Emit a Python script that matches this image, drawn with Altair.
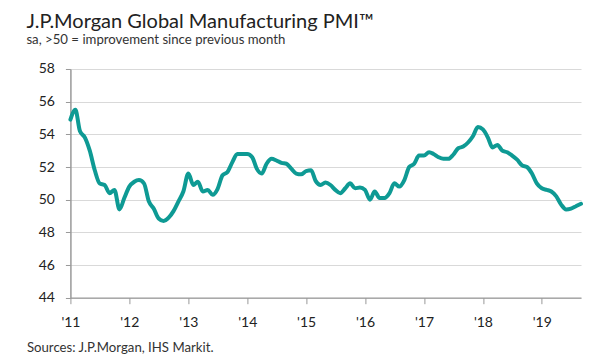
import altair as alt
import pandas as pd

# Monthly J.P.Morgan Global Manufacturing PMI, Jan 2011 - Sep 2019
pmi_2011 = [54.9, 55.5, 54.2, 53.8, 53.0, 51.8, 51.0, 50.9, 50.4, 50.6, 49.4, 50.1]
pmi_2012 = [50.8, 51.1, 51.2, 51.0, 49.9, 49.45, 48.85, 48.7, 48.9, 49.3, 49.9, 50.5]
pmi_2013 = [51.6, 50.9, 51.1, 50.5, 50.6, 50.3, 50.65, 51.5, 51.7, 52.3, 52.8, 52.8]
pmi_2014 = [52.8, 52.6, 51.9, 51.6, 52.2, 52.5, 52.4, 52.25, 52.2, 51.9, 51.6, 51.55]
pmi_2015 = [51.75, 51.8, 51.15, 50.9, 51.05, 50.9, 50.6, 50.4, 50.7, 51.0, 50.7, 50.75]
pmi_2016 = [50.6, 50.0, 50.5, 50.1, 50.1, 50.4, 51.0, 50.8, 51.2, 52.0, 52.2, 52.7]
pmi_2017 = [52.7, 52.9, 52.8, 52.6, 52.5, 52.5, 52.75, 53.15, 53.25, 53.5, 53.9, 54.45]
pmi_2018 = [54.3, 53.8, 53.2, 53.35, 53.0, 52.9, 52.7, 52.45, 52.1, 52.0, 51.6, 51.0]
pmi_2019 = [50.7, 50.6, 50.5, 50.2, 49.7, 49.4, 49.45, 49.6, 49.75]

pmi = pmi_2011 + pmi_2012 + pmi_2013 + pmi_2014 + pmi_2015 + pmi_2016 + pmi_2017 + pmi_2018 + pmi_2019
months = pd.date_range("2011-01-01", periods=len(pmi), freq="MS").strftime("%Y-%m-%d").tolist()

tick_years = list(range(2011, 2020))
y_ticks = [44, 46, 48, 50, 52, 54, 56, 58]

title_text = "J.P.Morgan Global Manufacturing PMI™"
subtitle_text = "sa, >50 = improvement since previous month"
source_text = "Sources: J.P.Morgan, IHS Markit."

df = pd.DataFrame({"month": months, "pmi": pmi})

W, H = 510.6, 228.7
FONT = "Lato"

chart = alt.Chart(df).mark_line(
    color="#0e9a94", strokeWidth=4, interpolate="monotone", strokeCap="round", strokeJoin="round"
).encode(
    x=alt.X(
        "month:T",
        scale=alt.Scale(
            type="utc",
            domain=[alt.DateTime(year=2011, month=1, date=1, utc=True),
                    alt.DateTime(year=2019, month=9, date=1, utc=True)],
        ),
        axis=alt.Axis(
            values=[alt.DateTime(year=y, month=1, date=1, utc=True) for y in tick_years],
            format="'%y",
            grid=False,
            domainColor="#999999",
            domainWidth=1.2,
            tickColor="#999999",
            tickSize=6,
            labelPadding=12,
            labelFlush=False,
            labelFont=FONT,
            labelFontSize=14,
            labelColor="#222222",
            title=source_text,
            titleFont=FONT,
            titleFontSize=13.2,
            titleFontWeight="normal",
            titleColor="#333333",
            titleAlign="left",
            titleAnchor="start",
            titleBaseline="alphabetic",
            titleX=-44,
            titleY=54,
        ),
    ),
    y=alt.Y(
        "pmi:Q",
        scale=alt.Scale(domain=[44, 58], nice=False, zero=False),
        axis=alt.Axis(
            values=y_ticks,
            title=None,
            gridColor="#d9d9d9",
            gridWidth=1.2,
            domainColor="#999999",
            domainWidth=1.5,
            tickColor="#999999",
            tickSize=5,
            labelPadding=11,
            labelFont=FONT,
            labelFontSize=14,
            labelColor="#222222",
        ),
    ),
).properties(
    width=W,
    height=H,
    title=alt.TitleParams(
        text=title_text,
        subtitle=subtitle_text,
        anchor="start",
        frame="group",
        dx=-44,
        offset=16,
        font=FONT,
        fontSize=20,
        fontWeight="normal",
        color="#222222",
        subtitleFont=FONT,
        subtitleFontSize=13.2,
        subtitleColor="#333333",
        subtitlePadding=2,
    ),
    autosize=alt.AutoSizeParams(type="none"),
    padding={"left": 62.4, "top": 61, "right": 12, "bottom": 57},
).configure_view(stroke=None)

chart.save("out.html", embed_options={"renderer": "svg", "actions": False})
